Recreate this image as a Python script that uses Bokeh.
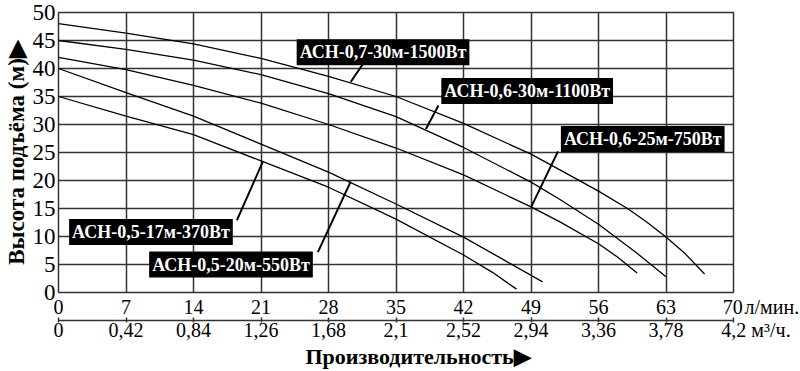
from bokeh.plotting import figure
from bokeh.models import (LinearAxis, Range1d, FixedTicker, Label)
from bokeh.embed import file_html
from bokeh.resources import INLINE

# ---------------- data ----------------
flow_ticks = [0, 7, 14, 21, 28, 35, 42, 49, 56, 63, 70]          # л/мин.
m3h_ticks = [0, 0.42, 0.84, 1.26, 1.68, 2.1, 2.52, 2.94, 3.36, 3.78, 4.2]  # м3/ч.
m3h_labels = ["0", "0,42", "0,84", "1,26", "1,68", "2,1", "2,52", "2,94",
              "3,36", "3,78", "4,2"]
head_ticks = [0, 5, 10, 15, 20, 25, 30, 35, 40, 45, 50]
flow_unit = "л/мин."
m3h_unit = "м³/ч."
x_title = "Производительность▶"
y_title = "Высота подъёма (м)▶"

# pump curves: flow (л/мин.) -> head (м)
q_1500 = [0, 7, 14, 21, 28, 35, 42, 49, 52, 56, 59, 61, 63, 65, 67]
h_1500 = [48, 46.3, 44.4, 41.8, 38.6, 35.0, 30.2, 24.7, 21.9, 18.1, 15.0, 12.6, 9.9, 6.9, 3.3]
q_1100 = [0, 7, 14, 21, 28, 35, 42, 49, 52, 56, 60, 63]
h_1100 = [45, 43.4, 41.5, 38.9, 35.5, 31.4, 25.9, 19.7, 16.6, 12.2, 7.0, 2.8]
q_750 = [0, 7, 14, 21, 28, 35, 42, 49, 52, 56, 58, 60]
h_750 = [42, 39.8, 37.0, 33.8, 30.0, 25.8, 21.0, 15.3, 12.6, 8.7, 6.3, 3.5]
q_550 = [0, 7, 14, 21, 28, 35, 42, 46, 50.2]
h_550 = [40, 35.7, 31.5, 26.5, 21.5, 15.8, 9.9, 6.0, 1.9]
q_370 = [0, 7, 14, 21, 28, 35, 42, 45, 47.5]
h_370 = [35, 31.5, 28.2, 23.5, 18.8, 13.1, 6.7, 3.6, 0.6]

curves = [(q_1500, h_1500), (q_1100, h_1100), (q_750, h_750),
          (q_550, h_550), (q_370, h_370)]

# curve labels: text, box left x, box centre y; leader start / end
label_texts = ["АСН-0,7-30м-1500Вт", "АСН-0,6-30м-1100Вт", "АСН-0,6-25м-750Вт",
               "АСН-0,5-17м-370Вт", "АСН-0,5-20м-550Вт"]
label_x = [24.7, 39.7, 52.1, 1.1, 9.4]
label_y = [42.9, 36.0, 27.4, 10.8, 5.0]
leader_x0 = [31.6, 39.4, 51.8, 18.5, 26.9]
leader_y0 = [40.9, 33.4, 25.2, 12.9, 7.2]
leader_x1 = [30.3, 38.1, 49.0, 21.2, 30.3]
leader_y1 = [37.6, 29.2, 15.2, 23.4, 19.8]

SERIF = "Liberation Serif"
NB = "\u00a0"

p = figure(width=800, height=371, x_range=(0, 70), y_range=(0, 50),
           output_backend="svg", toolbar_location=None,
           min_border_left=58, min_border_right=67,
           min_border_top=12, min_border_bottom=77)
p.background_fill_color = "white"
p.border_fill_color = "white"
p.outline_line_color = "#333333"
p.outline_line_width = 1.5

# left axis
ya = p.yaxis[0]
ya.ticker = FixedTicker(ticks=head_ticks)
ya.major_tick_in = 0
ya.major_tick_out = 0
ya.minor_tick_in = 0
ya.minor_tick_out = 0
ya.axis_line_color = None
ya.major_label_standoff = 3
ya.major_label_text_font = SERIF
ya.major_label_text_font_size = "23px"
ya.major_label_text_color = "black"
ya.axis_label = y_title
ya.axis_label_standoff = 1
ya.axis_label_text_font = SERIF
ya.axis_label_text_font_style = "bold"
ya.axis_label_text_font_size = "23px"
ya.axis_label_text_color = "black"

# bottom axis 1 (л/мин.)
xa = p.xaxis[0]
xa.ticker = FixedTicker(ticks=flow_ticks)
xa.major_tick_in = 0
xa.major_tick_out = 0
xa.minor_tick_in = 0
xa.minor_tick_out = 0
xa.axis_line_color = None
xa.major_label_standoff = 3
xa.major_label_text_font = SERIF
xa.major_label_text_font_size = "20px"
xa.major_label_text_color = "black"
xa.major_label_overrides = {
    flow_ticks[-1]: NB * 11 + str(flow_ticks[-1]) + "\u200a" + flow_unit}

# bottom axis 2 (м3/ч.) with the axis title
p.extra_x_ranges = {"m3h": Range1d(m3h_ticks[0], m3h_ticks[-1])}
xa2 = LinearAxis(x_range_name="m3h")
xa2.ticker = FixedTicker(ticks=m3h_ticks)
ov = {t: s for t, s in zip(m3h_ticks, m3h_labels)}
ov[m3h_ticks[-1]] = NB * 9 + m3h_labels[-1] + " " + m3h_unit
xa2.major_label_overrides = ov
xa2.major_tick_in = 3
xa2.major_tick_out = 2
xa2.minor_tick_in = 0
xa2.minor_tick_out = 0
xa2.axis_line_color = "#333333"
xa2.axis_line_width = 1.5
xa2.major_tick_line_color = "#333333"
xa2.major_tick_line_width = 1.5
xa2.major_label_standoff = -4
xa2.major_label_text_font = SERIF
xa2.major_label_text_font_size = "20px"
xa2.major_label_text_color = "black"
xa2.axis_label = NB * 8 + x_title
xa2.axis_label_standoff = 0
xa2.axis_label_text_font = SERIF
xa2.axis_label_text_font_style = "bold"
xa2.axis_label_text_font_size = "22px"
xa2.axis_label_text_color = "black"
p.add_layout(xa2, "below")

# grid
p.xgrid.ticker = FixedTicker(ticks=flow_ticks)
p.ygrid.ticker = FixedTicker(ticks=head_ticks)
for g in (p.xgrid[0], p.ygrid[0]):
    g.grid_line_color = "#333333"
    g.grid_line_width = 1.5
    g.grid_line_alpha = 1.0

# curves
for q, h in curves:
    p.line(q, h, line_color="black", line_width=1.3)

# leader lines
p.segment(x0=leader_x0, y0=leader_y0, x1=leader_x1, y1=leader_y1,
          line_color="black", line_width=2)

# curve labels
for t, lx, ly in zip(label_texts, label_x, label_y):
    p.add_layout(Label(x=lx, y=ly, text=t, text_align="left",
                       text_baseline="middle", text_color="white",
                       text_font=SERIF, text_font_style="bold",
                       text_font_size="18px",
                       background_fill_color="black",
                       background_fill_alpha=1.0, padding=3))

open("out.html", "w").write(file_html(p, INLINE))
